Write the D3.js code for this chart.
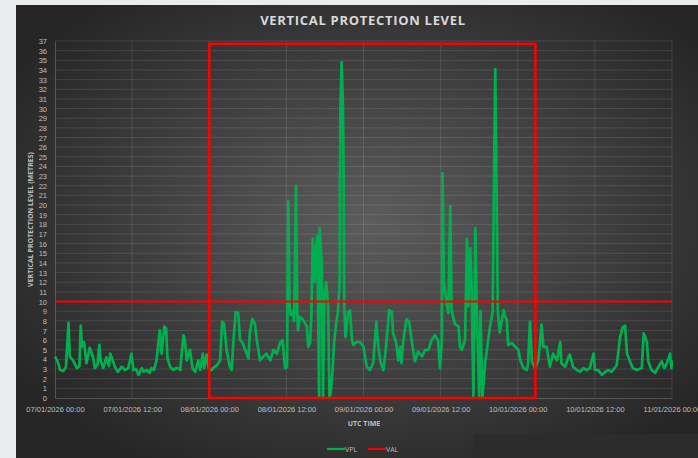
<!DOCTYPE html>
<html>
<head>
<meta charset="utf-8">
<script src="https://cdn.jsdelivr.net/npm/d3@7"></script>
<style>
  html, body { margin: 0; padding: 0; background: #e9edee; }
  svg { display: block; font-family: "Open Sans", sans-serif; }
</style>
</head>
<body>
<svg id="chart"></svg>
<script>
// data
var startTime = '2026-01-07T00:00:00Z'
var endTime = '2026-01-11T00:00:00Z'

// hours after 07/01/2026 00:00 UTC
var hours = [
  0.0, 0.4, 0.8, 1.3, 1.7, 2.1, 2.3, 2.8, 3.4, 3.8, 4.0, 4.2, 4.5, 4.7, 4.9, 5.4, 5.9, 6.2, 6.6, 6.9,
  7.1, 7.5, 8.0, 8.4, 8.6, 9.0, 9.3, 9.8, 10.4, 10.9, 11.4, 11.9, 12.2, 12.6, 13.0, 13.5, 13.8, 14.3, 14.7, 15.0,
  15.4, 15.8, 16.3, 16.6, 17.0, 17.3, 17.5, 17.9, 18.4, 18.8, 19.2, 19.5, 19.7, 20.0, 20.2, 20.5, 21.0, 21.4, 21.8, 22.3,
  22.6, 23.0, 23.2, 23.6, 23.9, 24.4, 24.6, 25.2, 25.7, 26.0, 26.3, 26.7, 27.2, 27.5, 27.7, 28.1, 28.5, 28.8, 29.2, 29.6,
  30.1, 30.3, 30.7, 31.1, 31.4, 31.9, 32.4, 32.9, 33.5, 34.0, 34.5, 35.0, 35.4, 35.8, 36.1, 36.3, 36.5, 36.7, 37.0, 37.2,
  37.5, 37.7, 37.8, 38.1, 38.6, 39.2, 39.4, 39.7, 39.9, 40.1, 40.4, 40.6, 40.8, 41.1, 41.2, 41.5, 41.7, 41.9, 42.2, 42.5,
  42.7, 42.9, 43.2, 43.4, 43.7, 44.0, 44.3, 44.4, 44.6, 44.8, 44.9, 45.0, 45.2, 45.6, 45.9, 46.2, 46.4, 46.9, 47.5, 48.0,
  48.5, 49.0, 49.5, 50.0, 50.3, 50.7, 51.1, 51.5, 52.0, 52.4, 52.6, 53.1, 53.4, 53.7, 53.9, 54.2, 54.7, 55.1, 55.5, 56.0,
  56.5, 57.1, 57.6, 58.1, 58.6, 59.1, 59.6, 59.9, 60.2, 60.3, 60.5, 61.0, 61.2, 61.5, 61.7, 62.2, 62.8, 63.0, 63.3, 63.8,
  64.1, 64.3, 64.6, 64.8, 65.1, 65.4, 65.6, 66.0, 66.2, 66.5, 66.9, 67.3, 67.7, 68.1, 68.3, 68.5, 68.7, 68.9, 69.2, 69.8,
  70.0, 70.3, 70.5, 71.1, 71.6, 72.1, 72.4, 72.9, 73.4, 73.6, 73.9, 74.2, 74.7, 75.2, 75.7, 76.0, 76.5, 77.0, 77.5, 78.1,
  78.6, 78.8, 79.4, 79.9, 80.1, 80.6, 81.2, 81.7, 82.2, 82.7, 83.2, 83.8, 84.0, 84.5, 85.1, 85.6, 86.1, 86.6, 87.4, 87.9,
  88.3, 88.7, 89.0, 89.4, 89.9, 90.5, 91.3, 91.6, 92.1, 92.3, 92.8, 93.4, 93.9, 94.4, 94.8, 95.2, 95.7, 95.9, 96.0
]
// vertical protection level (metres)
var vpl = [
  4.3, 3.8, 2.9, 2.8, 3.2, 7.8, 4.3, 3.9, 3.1, 3.3, 7.5, 5.3, 5.8, 4.8, 3.6, 5.2, 4.3, 3.1, 3.4, 5.5,
  3.9, 3.1, 4.2, 3.3, 4.6, 3.9, 3.25, 2.7, 3.25, 2.9, 3.1, 4.6, 2.9, 3.0, 2.4, 3.1, 2.7, 2.9, 2.6, 3.1,
  2.9, 3.9, 7.0, 4.6, 7.4, 7.2, 4.1, 3.25, 2.9, 3.1, 3.1, 2.9, 4.6, 6.5, 6.0, 3.9, 5.0, 3.1, 2.7, 3.9,
  2.9, 4.6, 3.1, 4.5, 3.1, 2.9, 3.1, 3.4, 3.9, 7.9, 7.7, 5.0, 3.25, 2.9, 5.3, 8.9, 8.8, 6.0, 5.7, 5.0,
  4.1, 6.7, 8.2, 7.7, 6.0, 3.9, 4.3, 4.6, 3.9, 5.0, 4.6, 5.7, 6.0, 3.1, 3.2, 20.4, 9.5, 8.6, 9.0, 8.0,
  22.0, 8.8, 7.0, 8.4, 8.1, 7.4, 5.3, 5.7, 8.8, 16.5, 12.0, 15.5, 16.8, 0.0, 17.6, 14.0, 0.0, 10.0, 12.0, 9.5,
  0.0, 0.5, 3.0, 5.5, 7.5, 8.8, 12.0, 30.0, 34.8, 30.2, 23.5, 9.5, 6.3, 8.9, 9.1, 6.0, 5.5, 5.8, 5.8, 5.3,
  3.25, 2.9, 3.6, 7.9, 5.3, 3.6, 2.9, 5.3, 9.1, 8.95, 6.7, 5.7, 3.9, 5.3, 3.6, 6.0, 8.15, 7.9, 6.0, 3.8,
  4.8, 4.3, 5.0, 5.0, 6.0, 6.5, 6.0, 3.1, 6.0, 23.3, 12.0, 9.5, 8.8, 19.9, 9.1, 7.7, 7.4, 5.3, 5.0, 6.0,
  16.5, 9.5, 15.5, 12.0, 0.0, 17.6, 10.0, 0.0, 9.0, 0.0, 3.5, 5.5, 7.5, 9.0, 22.5, 34.1, 22.0, 9.0, 6.8, 9.1,
  8.5, 8.1, 5.5, 5.7, 5.3, 5.0, 3.9, 3.1, 2.9, 3.5, 7.9, 3.8, 3.1, 3.9, 7.6, 5.3, 5.3, 3.25, 4.6, 3.9,
  5.8, 3.6, 3.25, 4.3, 4.5, 3.25, 2.9, 2.7, 3.1, 2.9, 3.1, 4.6, 2.9, 2.9, 2.4, 2.7, 2.9, 2.7, 3.4, 6.2,
  7.3, 7.5, 4.6, 3.9, 3.1, 2.9, 3.1, 6.7, 5.8, 3.8, 2.9, 2.6, 3.25, 3.8, 3.1, 3.6, 4.6, 3.1, 3.9
]
var valLimit = 10
// highlighted window drawn on the chart
var boxStart = '2026-01-08T00:00:00Z'
var boxEnd = '2026-01-10T02:45:00Z'
var boxTop = 36.7

var yMax = 37
var seriesNames = ['VPL', 'VAL']
var seriesColors = ['#00b050', '#ff0000']

var W = 698,
  H = 458,
  margin = { left: 55, right: 26, top: 41, bottom: 60 }

var svg = d3.select('#chart').attr('width', W).attr('height', H)

var defs = svg.append('defs')
var grad = defs
  .append('radialGradient')
  .attr('id', 'bg')
  .attr('cx', '52%')
  .attr('cy', '48%')
  .attr('r', '62%')
grad.append('stop').attr('offset', '0%').attr('stop-color', '#5c5c5c')
grad.append('stop').attr('offset', '100%').attr('stop-color', '#262626')

svg
  .append('rect')
  .attr('x', 16)
  .attr('y', 5)
  .attr('width', W - 16)
  .attr('height', H - 5)
  .attr('fill', 'url(#bg)')

// dark overlay panel at the bottom right
svg
  .append('rect')
  .attr('x', 473)
  .attr('y', 434)
  .attr('width', W - 473)
  .attr('height', H - 434)
  .attr('fill', '#2c2c2c')

var x = d3
  .scaleUtc()
  .domain([new Date(startTime), new Date(endTime)])
  .range([margin.left, W - margin.right])

var y = d3
  .scaleLinear()
  .domain([0, yMax])
  .range([H - margin.bottom, margin.top])

var t0 = new Date(startTime).getTime()
var points = hours.map(function(h, i) {
  return { t: new Date(t0 + h * 3600e3), v: vpl[i] }
})

var tickDates = d3.utcHour.every(12).range(new Date(startTime), new Date(t0 + 96 * 3600e3 + 1))

// grid
var grid = svg.append('g').attr('class', 'grid')
grid
  .selectAll('line.h')
  .data(d3.range(1, yMax + 1))
  .join('line')
  .attr('x1', x.range()[0])
  .attr('x2', x.range()[1])
  .attr('y1', d => y(d))
  .attr('y2', d => y(d))
  .attr('stroke', 'rgba(255,255,255,0.11)')
  .attr('stroke-width', 1)
grid
  .selectAll('line.v')
  .data(tickDates.slice(1))
  .join('line')
  .attr('x1', d => x(d))
  .attr('x2', d => x(d))
  .attr('y1', y(yMax))
  .attr('y2', y(0))
  .attr('stroke', 'rgba(255,255,255,0.11)')
  .attr('stroke-width', 1)

// axes
var fmt = d3.utcFormat('%d/%m/%Y %H:%M')
var xAxis = svg
  .append('g')
  .attr('transform', 'translate(0,' + y(0) + ')')
  .call(d3.axisBottom(x).tickValues(tickDates).tickFormat(fmt).tickSize(0).tickPadding(9))
var yAxis = svg
  .append('g')
  .attr('transform', 'translate(' + margin.left + ',0)')
  .call(d3.axisLeft(y).ticks(yMax).tickSize(0).tickPadding(8))

;[xAxis, yAxis].forEach(function(g) {
  g.select('.domain').attr('stroke', 'rgba(255,255,255,0.2)')
  g.selectAll('text')
    .attr('fill', '#bfbfbf')
    .style('font-size', '7.5px')
})
yAxis.selectAll('text').attr('dy', '0.34em')

// VPL line
svg
  .append('path')
  .datum(points)
  .attr('fill', 'none')
  .attr('stroke', seriesColors[0])
  .attr('stroke-width', 2.7)
  .attr('stroke-linejoin', 'round')
  .attr('d', d3.line().x(d => x(d.t)).y(d => y(d.v)))

// highlight box
svg
  .append('rect')
  .attr('x', x(new Date(boxStart)))
  .attr('y', y(boxTop))
  .attr('width', x(new Date(boxEnd)) - x(new Date(boxStart)))
  .attr('height', y(0) - y(boxTop))
  .attr('fill', 'none')
  .attr('stroke', '#ff0000')
  .attr('stroke-width', 2.5)

// VAL line
svg
  .append('line')
  .attr('x1', x.range()[0])
  .attr('x2', x.range()[1])
  .attr('y1', y(valLimit))
  .attr('y2', y(valLimit))
  .attr('stroke', seriesColors[1])
  .attr('stroke-width', 2)

// titles
svg
  .append('text')
  .attr('x', 363)
  .attr('y', 25)
  .attr('text-anchor', 'middle')
  .attr('fill', '#d9d9d9')
  .style('font-size', '13px')
  .style('font-weight', 'bold')
  .style('letter-spacing', '0.7px')
  .text('VERTICAL PROTECTION LEVEL')

svg
  .append('text')
  .attr('transform', 'translate(33,' + (y(0) + y(yMax)) / 2 + ')rotate(-90)')
  .attr('text-anchor', 'middle')
  .attr('fill', '#bfbfbf')
  .style('font-size', '7px')
  .style('font-weight', 'bold')
  .text('VERTICAL PROTECTION LEVEL (METRES)')

svg
  .append('text')
  .attr('x', 364)
  .attr('y', 426)
  .attr('text-anchor', 'middle')
  .attr('fill', '#bfbfbf')
  .style('font-size', '7px')
  .style('font-weight', 'bold')
  .text('UTC TIME')

// legend
var legend = svg.append('g').attr('transform', 'translate(327,449)')
var lx = [0, 41]
seriesNames.forEach(function(name, i) {
  legend
    .append('line')
    .attr('x1', lx[i])
    .attr('x2', lx[i] + 18)
    .attr('stroke', seriesColors[i])
    .attr('stroke-width', 2.2)
  legend
    .append('text')
    .attr('x', lx[i] + 18)
    .attr('y', 2.5)
    .attr('fill', '#bfbfbf')
    .style('font-size', '7px')
    .text(name)
})
</script>
</body>
</html>
